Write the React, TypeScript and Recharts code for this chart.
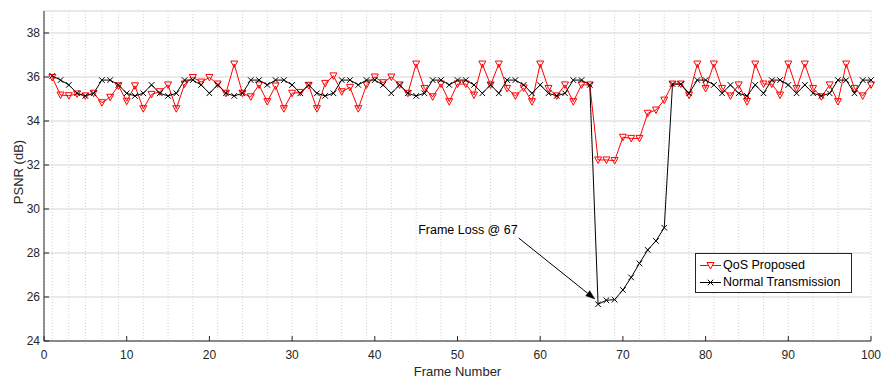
import React from 'react';
import { LineChart, Line, XAxis, YAxis, CartesianGrid, ReferenceLine } from 'recharts';

const qosProposed = [
  35.98, 35.18, 35.15, 35.23, 35.14, 35.26, 34.83, 35.08, 35.6, 34.9,
  35.6, 34.56, 35.21, 35.33, 35.64, 34.56, 35.68, 35.98, 35.77, 35.98,
  35.68, 35.26, 36.59, 35.26, 35.1, 35.64, 34.88, 35.59, 34.56, 35.26,
  35.3, 35.62, 34.56, 35.71, 36.05, 35.33, 35.53, 34.56, 35.64, 36.0,
  35.74, 36.0, 35.64, 35.26, 36.59, 35.48, 35.1, 35.68, 34.88, 35.68,
  35.68, 35.18, 36.59, 35.64, 36.59, 35.48, 35.14, 35.5, 34.88, 36.59,
  35.48, 35.14, 35.64, 34.88, 35.64, 35.64, 32.23, 32.23, 32.2, 33.26,
  33.21, 33.21, 34.35, 34.5, 34.95, 35.68, 35.68, 35.18, 36.59, 35.48,
  36.59, 35.48, 35.14, 35.64, 34.88, 36.59, 35.68, 35.68, 35.18, 36.59,
  35.48, 36.59, 35.48, 35.1, 35.64, 34.88, 36.59, 35.48, 35.14, 35.64,
];

const normalTransmission = [
  36.05, 35.86, 35.64, 35.26, 35.14, 35.26, 35.86, 35.86, 35.64, 35.26,
  35.14, 35.26, 35.64, 35.26, 35.14, 35.26, 35.86, 35.86, 35.64, 35.26,
  35.64, 35.26, 35.14, 35.26, 35.86, 35.86, 35.64, 35.86, 35.86, 35.64,
  35.26, 35.64, 35.26, 35.14, 35.26, 35.86, 35.86, 35.64, 35.86, 35.86,
  35.64, 35.26, 35.64, 35.26, 35.14, 35.26, 35.86, 35.86, 35.64, 35.86,
  35.86, 35.64, 35.26, 35.64, 35.26, 35.86, 35.86, 35.64, 35.26, 35.64,
  35.26, 35.14, 35.26, 35.86, 35.86, 35.64, 25.67, 25.85, 25.88, 26.32,
  26.89, 27.53, 28.14, 28.55, 29.15, 35.68, 35.68, 35.26, 35.86, 35.86,
  35.64, 35.26, 35.64, 35.26, 35.14, 35.64, 35.26, 35.86, 35.86, 35.64,
  35.26, 35.64, 35.26, 35.14, 35.26, 35.86, 35.86, 35.26, 35.86, 35.86,
];

const frames = qosProposed.map((_, i) => i + 1);
const xTicks = [0, 10, 20, 30, 40, 50, 60, 70, 80, 90, 100];
const yTicks = [24, 26, 28, 30, 32, 34, 36, 38];
const minorXTicks = Array.from({ length: 101 }, (_, i) => i);
const seriesNames = ['QoS Proposed', 'Normal Transmission'];

const annotationText = 'Frame Loss @ 67';
const arrowFrom = { x: 57.4, y: 28.68 };
const arrowTo = { x: 66.6, y: 25.91 };

const data = frames.map((f, i) => ({
  frame: f,
  qos: qosProposed[i],
  normal: normalTransmission[i],
}));

const AXIS = '#262626';
const FONT = '"Liberation Sans", Arial, Helvetica, sans-serif';

const TriDot = (props: any) => {
  const { cx, cy, index } = props;
  if (cx == null || cy == null) return <g key={`t${index}`} />;
  return (
    <path
      key={`t${index}`}
      d={`M${cx - 3.5},${cy - 3} L${cx + 3.5},${cy - 3} L${cx},${cy + 3.5} Z`}
      fill="none"
      stroke="#ff0000"
      strokeWidth={1}
    />
  );
};

const XDot = (props: any) => {
  const { cx, cy, index } = props;
  if (cx == null || cy == null) return <g key={`x${index}`} />;
  const s = 2.8;
  return (
    <path
      key={`x${index}`}
      d={`M${cx - s},${cy - s} L${cx + s},${cy + s} M${cx - s},${cy + s} L${cx + s},${cy - s}`}
      stroke="#000"
      strokeWidth={1}
      fill="none"
    />
  );
};

const ArrowShape = (props: any) => {
  const { x1, y1, x2, y2 } = props;
  const dx = x2 - x1;
  const dy = y2 - y1;
  const len = Math.sqrt(dx * dx + dy * dy) || 1;
  const ux = dx / len;
  const uy = dy / len;
  const hl = 9;
  const hw = 3.2;
  const bx = x2 - ux * hl;
  const by = y2 - uy * hl;
  const px = -uy;
  const py = ux;
  return (
    <g>
      <line x1={x1} y1={y1} x2={bx} y2={by} stroke="#000" strokeWidth={1} />
      <path
        d={`M${x2},${y2} L${bx + px * hw},${by + py * hw} L${bx - px * hw},${by - py * hw} Z`}
        fill="#000"
        stroke="#000"
        strokeWidth={0.5}
      />
      <text
        x={x1 - 1}
        y={y1 - 4}
        textAnchor="end"
        fontSize={12.5}
        fill="#000"
        fontFamily={FONT}
      >
        {annotationText}
      </text>
    </g>
  );
};

const LegendBox = () => (
  <div
    style={{
      position: 'absolute',
      left: 695,
      top: 253,
      width: 157,
      height: 40,
      border: '1px solid #262626',
      background: '#fff',
      boxSizing: 'border-box',
      fontFamily: FONT,
      fontSize: 12.5,
      color: '#000',
    }}
  >
    <svg width={30} height={40} style={{ position: 'absolute', left: 0, top: 0 }}>
      <line x1={4} y1={11.5} x2={25} y2={11.5} stroke="#ff0000" strokeWidth={1} />
      <path d="M11,8.5 L18,8.5 L14.5,15 Z" fill="#fff" stroke="#ff0000" strokeWidth={1} />
      <line x1={4} y1={28.5} x2={25} y2={28.5} stroke="#000" strokeWidth={1} />
      <path d="M11.7,25.7 L17.3,31.3 M11.7,31.3 L17.3,25.7" stroke="#000" strokeWidth={1} />
    </svg>
    <div style={{ position: 'absolute', left: 27, top: 4, lineHeight: '15px', whiteSpace: 'nowrap' }}>{seriesNames[0]}</div>
    <div style={{ position: 'absolute', left: 27, top: 21, lineHeight: '15px', whiteSpace: 'nowrap' }}>{seriesNames[1]}</div>
  </div>
);

export default function App() {
  return (
    <div style={{ position: 'absolute', left: 0, top: 0, width: 881, height: 381, background: '#fff', fontFamily: FONT }}>
      <LineChart
        width={881}
        height={381}
        data={data}
        margin={{ top: 11, right: 10, bottom: 0, left: 0 }}
        style={{ fontFamily: FONT }}
      >
        <XAxis xAxisId="minor" dataKey="frame" type="number" domain={[0, 100]} ticks={minorXTicks} hide />
        <CartesianGrid
          xAxisId="minor"
          horizontal={false}
          vertical={true}
          stroke="#cfcfcf"
          strokeDasharray="1 2"
        />
        <CartesianGrid horizontal={true} vertical={false} stroke="#e3e3e3" strokeWidth={1.3} />
        <XAxis
          dataKey="frame"
          type="number"
          domain={[0, 100]}
          ticks={xTicks}
          interval={0}
          height={40}
          tickSize={-5}
          tickMargin={14}
          axisLine={{ stroke: AXIS }}
          tickLine={{ stroke: AXIS }}
          tick={{ fill: AXIS, fontSize: 12 }}
          label={{ value: 'Frame Number', position: 'insideBottom', offset: 5, fill: AXIS, fontSize: 13 }}
        />
        <YAxis
          type="number"
          domain={[24, 39]}
          ticks={yTicks}
          interval={0}
          width={44}
          tickSize={-5}
          tickMargin={9}
          axisLine={{ stroke: AXIS }}
          tickLine={{ stroke: AXIS }}
          tick={{ fill: AXIS, fontSize: 12 }}
          label={{
            content: () => (
              <text
                x={18}
                y={172}
                transform="rotate(-90 18 172)"
                textAnchor="middle"
                dominantBaseline="central"
                fill={AXIS}
                fontSize={13}
                fontFamily={FONT}
              >
                PSNR (dB)
              </text>
            ),
          }}
        />
        <Line
          type="linear"
          dataKey="qos"
          name={seriesNames[0]}
          stroke="#ff0000"
          strokeWidth={1}
          dot={TriDot}
          activeDot={false}
          isAnimationActive={false}
        />
        <Line
          type="linear"
          dataKey="normal"
          name={seriesNames[1]}
          stroke="#000"
          strokeWidth={1}
          dot={XDot}
          activeDot={false}
          isAnimationActive={false}
        />
        <ReferenceLine
          segment={[arrowFrom, arrowTo]}
          shape={ArrowShape}
          ifOverflow="visible"
        />
      </LineChart>
      <LegendBox />
    </div>
  );
}
